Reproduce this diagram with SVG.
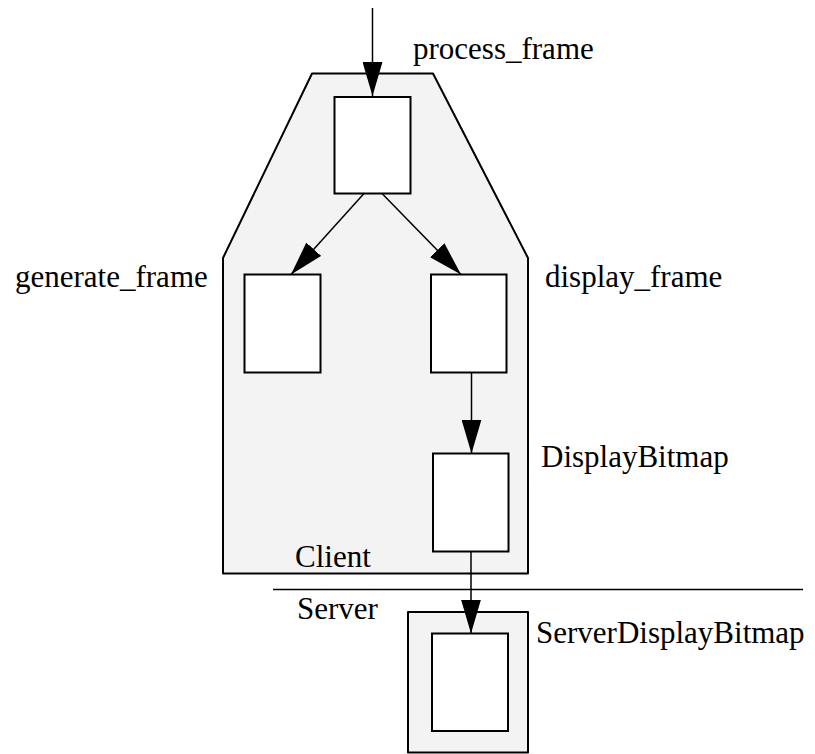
<svg xmlns="http://www.w3.org/2000/svg" width="815" height="754" viewBox="0 0 815 754">
<style>
.lbl{font-family:'Liberation Serif','Times New Roman','DejaVu Serif',serif;font-size:31px;fill:#000}
.box{fill:#fff;stroke:#000;stroke-width:2}
.zone{fill:#f3f3f3;stroke:#000;stroke-width:2;stroke-linejoin:round}
.conn{fill:none;stroke:#000;stroke-width:1.5;marker-end:url(#ah)}
</style>
<defs>
<marker id="ah" markerUnits="userSpaceOnUse" markerWidth="34" markerHeight="20" refX="34" refY="10" orient="auto" viewBox="0 0 34 20">
<path d="M0,0 L34,10 L0,20 z" fill="#000"/>
</marker>
</defs>
<g id="client">
<polygon class="zone" points="312,73.5 433,73.5 528,258 528,573.5 223,573.5 223,258"/>
<text class="lbl" font-family="Liberation Serif" x="295" y="567">Client</text>
</g>
<g id="separator">
<line x1="273" y1="589.5" x2="803" y2="589.5" stroke="#000" stroke-width="1.5"/>
<text class="lbl" font-family="Liberation Serif" x="297" y="619">Server</text>
</g>
<g id="process_frame">
<rect class="box" x="334.5" y="97" width="76" height="96.5"/>
<text class="lbl" font-family="Liberation Serif" x="413" y="59">process_frame</text>
</g>
<g id="generate_frame">
<rect class="box" x="244.5" y="274.5" width="76" height="98"/>
<text class="lbl" font-family="Liberation Serif" x="15" y="287">generate_frame</text>
</g>
<g id="display_frame">
<rect class="box" x="431" y="274.5" width="75.5" height="98"/>
<text class="lbl" font-family="Liberation Serif" x="545" y="287">display_frame</text>
</g>
<g id="DisplayBitmap">
<rect class="box" x="433" y="453.5" width="75.5" height="98"/>
<text class="lbl" font-family="Liberation Serif" x="541" y="467">DisplayBitmap</text>
</g>
<g id="ServerDisplayBitmap">
<rect class="zone" x="408" y="612" width="120" height="140.5"/>
<rect class="box" x="432" y="633.5" width="76" height="97.5"/>
<text class="lbl" font-family="Liberation Serif" x="536" y="643">ServerDisplayBitmap</text>
</g>
<g id="connectors">
<line class="conn" x1="372.5" y1="8" x2="372.5" y2="96"/>
<line class="conn" x1="364" y1="193.5" x2="291" y2="274.5"/>
<line class="conn" x1="382" y1="193.5" x2="461" y2="274.5"/>
<line class="conn" x1="471.5" y1="372.5" x2="471.5" y2="453.5"/>
<line class="conn" x1="471" y1="551.5" x2="471" y2="633.5"/>
</g>
</svg>
